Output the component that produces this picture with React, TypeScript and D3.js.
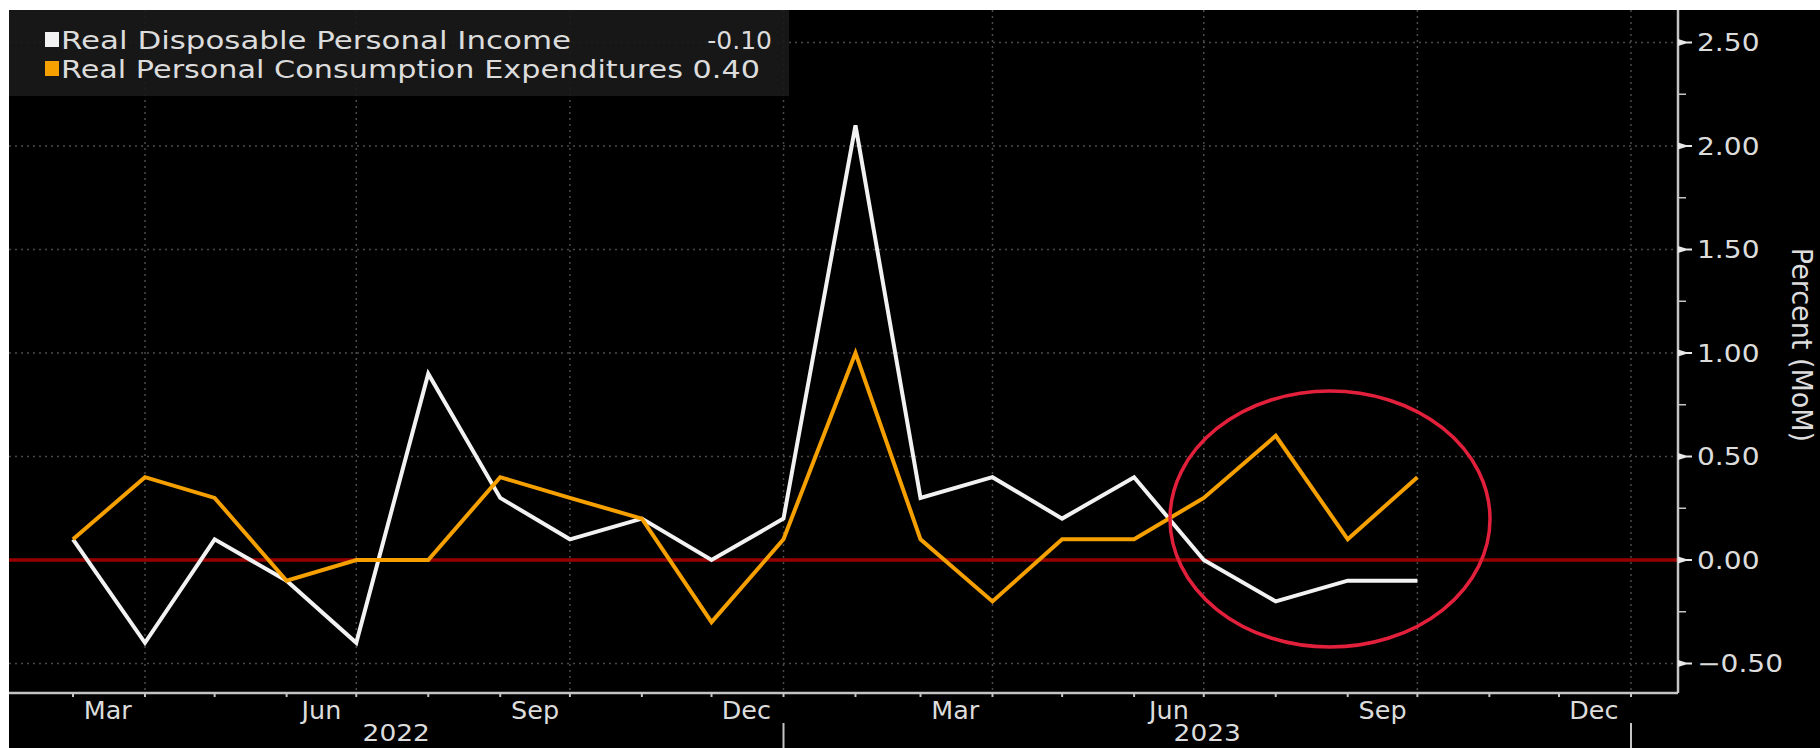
import React from "react";
import * as d3 from "d3";

// ---- data (month = reference month, plotted at month end) ----
const months = [
  "2022-02", "2022-03", "2022-04", "2022-05", "2022-06", "2022-07", "2022-08", "2022-09", "2022-10", "2022-11", "2022-12",
  "2023-01", "2023-02", "2023-03", "2023-04", "2023-05", "2023-06", "2023-07", "2023-08", "2023-09",
];
const rdpi = [0.1, -0.4, 0.1, -0.1, -0.4, 0.9, 0.3, 0.1, 0.2, 0.0, 0.2, 2.1, 0.3, 0.4, 0.2, 0.4, 0.0, -0.2, -0.1, -0.1];
const pce = [0.1, 0.4, 0.3, -0.1, 0.0, 0.0, 0.4, 0.3, 0.2, -0.3, 0.1, 1.0, 0.1, -0.2, 0.1, 0.1, 0.3, 0.6, 0.1, 0.4];
const seriesNames = ["Real Disposable Personal Income", "Real Personal Consumption Expenditures"];
const lastValues = ["-0.10", "0.40"];
const yTicks = [-0.5, 0, 0.5, 1, 1.5, 2, 2.5];
const labelMonthIdx = [2, 5, 8, 11]; // Mar, Jun, Sep, Dec
const yAxisTitle = "Percent (MoM)";

const W = 1820;
const H = 748;
const P = { left: 9, top: 10, right: 1678, bottom: 693 };
const FONT = "DejaVu Sans, Verdana, sans-serif";
const WHITE = "#f2f2f2";
const ORANGE = "#f6a000";
const TXT = "#dcdcdc";
const AXIS = "#c4c4c4";
const GRID = "#4a4a4a";

function SText(props: any) {
  const { x, y, sx = 1, sy = 1, rot = 0, anchor = "start", size = 24, fill = TXT, children, dy } = props;
  return (
    <text
      transform={`translate(${x},${y}) rotate(${rot}) scale(${sx},${sy})`}
      textAnchor={anchor}
      fontSize={size}
      fill={fill}
      fontFamily={FONT}
      dy={dy}
    >
      {children}
    </text>
  );
}

export default function App() {
  const parse = d3.timeParse("%Y-%m");
  const dates = months.map((m) => d3.timeMonth.offset(parse(m) as Date, 1));
  const x = d3.scaleTime().domain([new Date(2022, 2, 1), new Date(2024, 0, 1)]).range([73, 1631]);
  const y = d3.scaleLinear().domain([-0.5, 2.5]).range([663.5, 42.5]);

  const xMin = x.invert(P.left);
  const xMax = x.invert(P.right);
  const monthStarts = d3.timeMonth.range(d3.timeMonth.ceil(xMin), xMax);
  const quarterStarts = monthStarts.filter((d) => d.getMonth() % 3 === 0);
  const labelMonths = monthStarts.filter((d) => labelMonthIdx.includes(d.getMonth()));
  const yearStarts = d3.timeYear.range(d3.timeYear.ceil(xMin), xMax);
  const yearBounds = [P.left, ...yearStarts.map((d) => x(d))];
  const yearLabels = d3.timeYear.range(d3.timeYear.floor(xMin), yearStarts[yearStarts.length - 1]);
  const fmtMonth = d3.timeFormat("%b");
  const fmtYear = d3.timeFormat("%Y");
  const minorTicks = d3.range(-0.5, 2.51, 0.25);

  const line = d3
    .line<number>()
    .x((_, i) => x(dates[i]))
    .y((d) => y(d));

  return (
    <svg width={W} height={H} style={{ position: "absolute", left: 0, top: 0, background: "#fff" }}>
      <defs>
        <clipPath id="plotClip">
          <rect x={P.left} y={P.top} width={P.right - P.left} height={P.bottom - P.top} />
        </clipPath>
      </defs>
      <rect x={P.left} y={P.top} width={W - P.left} height={H - P.top} fill="#000" />

      {/* grid */}
      {yTicks
        .filter((t) => t !== 0)
        .map((t) => (
          <line key={"gy" + t} x1={P.left} x2={P.right} y1={y(t)} y2={y(t)} stroke={GRID} strokeWidth={1.5} strokeDasharray="2,4" />
        ))}
      {quarterStarts.map((d) => (
        <line key={"gx" + d.getTime()} x1={x(d)} x2={x(d)} y1={P.top} y2={P.bottom} stroke={GRID} strokeWidth={1.5} strokeDasharray="2,4" />
      ))}

      {/* zero line */}
      <line x1={P.left} x2={P.right} y1={y(0)} y2={y(0)} stroke="#980000" strokeWidth={3.5} />

      {/* series */}
      <g clipPath="url(#plotClip)">
        <path d={line(rdpi) || ""} fill="none" stroke={WHITE} strokeWidth={4} strokeLinejoin="miter" />
        <path d={line(pce) || ""} fill="none" stroke={ORANGE} strokeWidth={4} strokeLinejoin="miter" />
      </g>

      {/* legend */}
      <rect x={P.left} y={P.top} width={780} height={86} fill="#1a1a1a" fillOpacity={0.9} />
      <rect x={45} y={32} width={14} height={15} fill={WHITE} />
      <rect x={45} y={61} width={14} height={15} fill={ORANGE} />
      <text x={61} y={49} fontSize={25} fill={TXT} fontFamily={FONT} textLength={510} lengthAdjust="spacingAndGlyphs">
        {seriesNames[0]}
      </text>
      <text x={772} y={49} fontSize={25} fill={TXT} fontFamily={FONT} textAnchor="end">
        <tspan>{lastValues[0]}</tspan>
      </text>
      <text x={61} y={78} fontSize={25} fill={TXT} fontFamily={FONT} textLength={699} lengthAdjust="spacingAndGlyphs">
        {seriesNames[1] + " " + lastValues[1]}
      </text>

      {/* x axis */}
      <line x1={P.left} x2={P.right} y1={P.bottom} y2={P.bottom} stroke={AXIS} strokeWidth={2.5} />
      {monthStarts.map((d) => (
        <line key={"tx" + d.getTime()} x1={x(d)} x2={x(d)} y1={P.bottom} y2={P.bottom + 4} stroke={AXIS} strokeWidth={2} />
      ))}
      {labelMonths.map((d) => (
        <SText key={"lm" + d.getTime()} x={x(d3.timeDay.offset(d, 15))} y={719} anchor="middle" sx={1.06} size={24}>
          {fmtMonth(d)}
        </SText>
      ))}
      {yearStarts.map((d) => (
        <line key={"ys" + d.getTime()} x1={x(d)} x2={x(d)} y1={723} y2={H} stroke={AXIS} strokeWidth={2} />
      ))}
      {yearLabels.map((d, i) => (
        <SText key={"yl" + i} x={(yearBounds[i] + yearBounds[i + 1]) / 2} y={741} anchor="middle" sx={1.15} size={23}>
          {fmtYear(d)}
        </SText>
      ))}

      {/* y axis (right) */}
      <line x1={P.right} x2={P.right} y1={P.top} y2={P.bottom} stroke={AXIS} strokeWidth={2.5} />
      {minorTicks.map((t) => (
        <line key={"mt" + t} x1={P.right} x2={P.right + 8} y1={y(t)} y2={y(t)} stroke={AXIS} strokeWidth={1.5} />
      ))}
      {yTicks.map((t) => (
        <g key={"yt" + t}>
          <path d={`M${P.right},${y(t) - 3.5}L${P.right + 8},${y(t) - 1}L${P.right + 14},${y(t) - 1}L${P.right + 14},${y(t) + 1}L${P.right + 8},${y(t) + 1}L${P.right},${y(t) + 3.5}Z`} fill="#e8e8e8" />
          <SText x={1697} y={y(t)} dy="0.36em" sx={1.17} size={24}>
            {d3.format(".2f")(t)}
          </SText>
        </g>
      ))}
      <SText x={1792} y={345} rot={90} anchor="middle" sx={1.08} sy={1.15} size={25}>
        {yAxisTitle}
      </SText>

      {/* highlight ellipse */}
      <ellipse cx={1330} cy={519} rx={160} ry={128} fill="none" stroke="#e3203c" strokeWidth={3.5} />
    </svg>
  );
}
